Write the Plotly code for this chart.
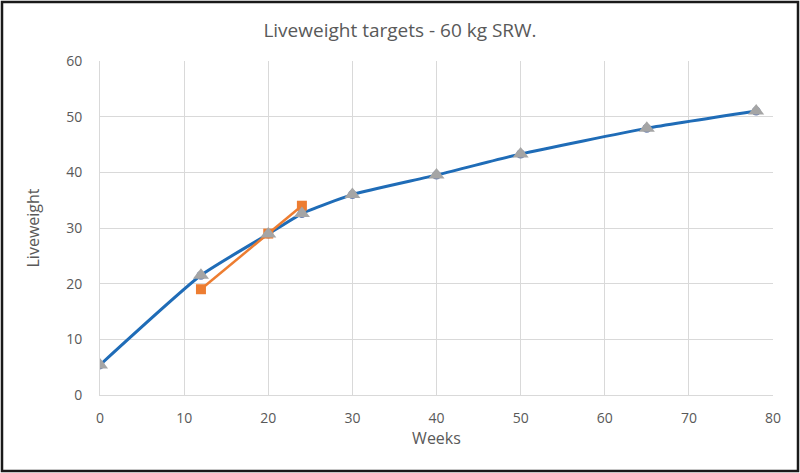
import plotly.graph_objects as go

# Liveweight targets (blue) and actual (orange)
weeks = [0, 12, 20, 24, 30, 40, 50, 65, 78]
target = [5.4, 21.5, 28.9, 32.6, 36.0, 39.5, 43.3, 47.9, 51.0]

actual_weeks = [12, 20, 24]
actual = [19.0, 29.0, 34.0]

W, H = 800, 473
L, R, T, B = 100, 27, 61, 78

fig = go.Figure()

fig.add_trace(go.Scatter(
    x=weeks, y=target, mode="lines+markers",
    line=dict(color="#1f6cb7", width=3, shape="spline", smoothing=0.5),
    marker=dict(symbol="circle", size=9, color="#6b7fae"),
    showlegend=False))

fig.add_trace(go.Scatter(
    x=actual_weeks, y=actual, mode="lines+markers",
    line=dict(color="#ed7d31", width=2.5),
    marker=dict(symbol="square", size=10, color="#ed7d31"),
    showlegend=False))

# grey triangles on top of the target points
fig.add_trace(go.Scatter(
    x=weeks, y=target, mode="markers",
    marker=dict(symbol="triangle-up", size=14, color="#a5a5a5"),
    showlegend=False))

font = "Open Sans, Liberation Sans, sans-serif"

fig.update_layout(
    width=W, height=H,
    margin=dict(l=L, r=R, t=T, b=B),
    paper_bgcolor="white", plot_bgcolor="white",
    font=dict(family=font, color="#595959", size=14),
    title=dict(text="Liveweight targets - 60 kg SRW.", x=0.5, xanchor="center",
               y=1 - 30 / H, yanchor="middle",
               font=dict(size=19, color="#595959")),
    xaxis=dict(range=[0, 80], dtick=10, showgrid=True, gridcolor="#d9d9d9",
               zeroline=False, showline=True, linecolor="#d9d9d9",
               ticks="", ticklabelstandoff=10,
               title=dict(text="Weeks", standoff=6, font=dict(size=16))),
    yaxis=dict(range=[0, 60], dtick=10, showgrid=True, gridcolor="#d9d9d9",
               zeroline=False, showline=True, linecolor="#d9d9d9",
               ticks="", ticklabelstandoff=14,
               title=dict(text="Liveweight", standoff=22, font=dict(size=16))),
)

# dark frame around the whole picture
pw, ph = W - L - R, H - T - B
fig.add_shape(type="rect", xref="paper", yref="paper",
              x0=(-L + 2) / pw, x1=1 + (R - 2) / pw,
              y0=(-B + 2) / ph, y1=1 + (T - 2) / ph,
              line=dict(color="#1a1a1a", width=2.5), layer="above")

fig.write_html("out.html", config={"displayModeBar": False},
               post_script="document.body.style.margin='0';")
